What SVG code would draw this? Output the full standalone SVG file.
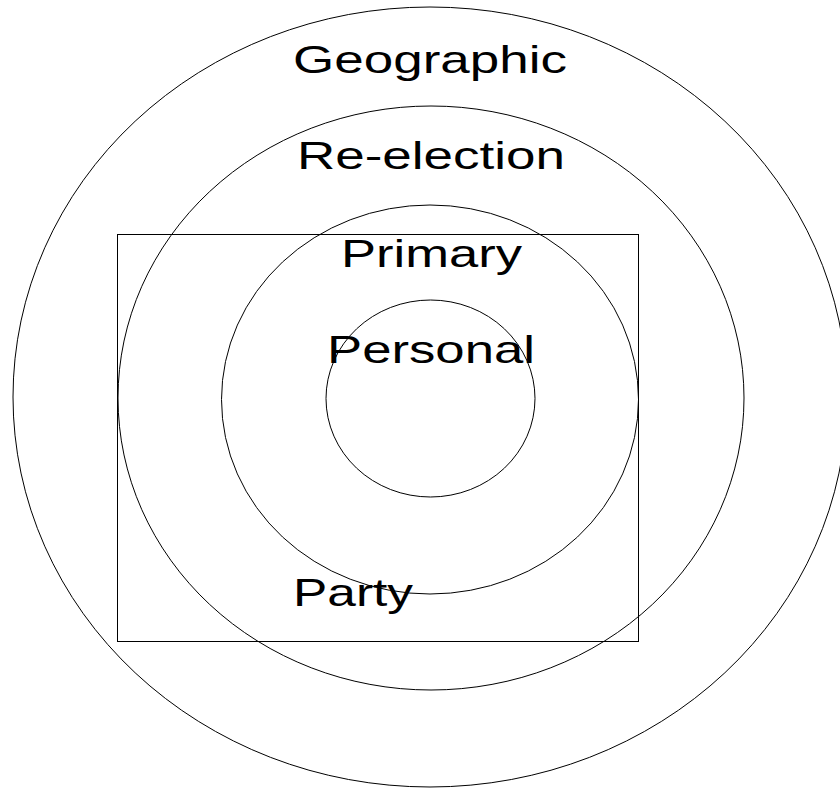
<svg xmlns="http://www.w3.org/2000/svg" width="840" height="788" viewBox="0 0 840 788">
  <style>
    .ring { fill: none; stroke: #000; stroke-width: 1; }
    .box { fill: none; stroke: #000; stroke-width: 1; }
    .lbl { font-family: "Liberation Sans", Arial, sans-serif; font-size: 39px; fill: #000; }
  </style>
  <rect width="840" height="788" fill="#fff"/>
  <g id="geographic">
    <ellipse class="ring" cx="430" cy="397" rx="417" ry="390"/>
    <text class="lbl" x="293" y="73" textLength="274" lengthAdjust="spacingAndGlyphs">Geographic</text>
  </g>
  <g id="re-election">
    <ellipse class="ring" cx="431" cy="398" rx="313" ry="292"/>
    <text class="lbl" x="297" y="169" textLength="268" lengthAdjust="spacingAndGlyphs">Re-election</text>
  </g>
  <g id="party">
    <rect class="box" x="117.5" y="234.5" width="521" height="407"/>
    <text class="lbl" x="293" y="606" textLength="120" lengthAdjust="spacingAndGlyphs">Party</text>
  </g>
  <g id="primary">
    <ellipse class="ring" cx="430" cy="399.5" rx="208.5" ry="194.5"/>
    <text class="lbl" x="341" y="267" textLength="181" lengthAdjust="spacingAndGlyphs">Primary</text>
  </g>
  <g id="personal">
    <ellipse class="ring" cx="430.5" cy="398.5" rx="104.5" ry="98.5"/>
    <text class="lbl" x="327" y="363" textLength="208" lengthAdjust="spacingAndGlyphs">Personal</text>
  </g>
</svg>
